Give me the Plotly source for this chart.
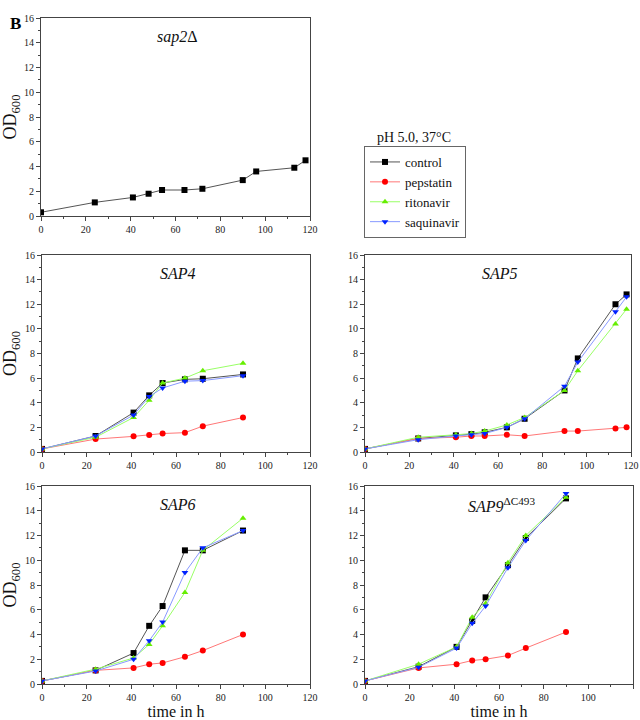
import plotly.graph_objects as go

# ---- data ----
t_sap2 = [0, 24, 41, 48, 54, 64, 72, 90, 96, 113, 118]
sap2_control = [0.3, 1.1, 1.5, 1.8, 2.1, 2.1, 2.2, 2.9, 3.6, 3.9, 4.5]

t_short = [0, 24, 41, 48, 54, 64, 72, 90]
t_long = [0, 24, 41, 48, 54, 64, 72, 90, 96, 113, 118]

sap4_control = [0.25, 1.3, 3.2, 4.6, 5.6, 5.9, 5.95, 6.3]
sap4_pepstatin = [0.25, 1.05, 1.27, 1.38, 1.5, 1.57, 2.1, 2.8]
sap4_ritonavir = [0.25, 1.2, 2.8, 4.2, 5.6, 6.0, 6.6, 7.2]
sap4_saquinavir = [0.25, 1.3, 3.0, 4.5, 5.2, 5.75, 5.8, 6.2]

sap5_control = [0.25, 1.1, 1.35, 1.45, 1.6, 2.0, 2.7, 5.0, 7.6, 12.0, 12.8]
sap5_pepstatin = [0.25, 1.1, 1.2, 1.3, 1.3, 1.4, 1.3, 1.7, 1.7, 1.9, 2.0]
sap5_ritonavir = [0.25, 1.2, 1.4, 1.5, 1.7, 2.2, 2.8, 5.0, 6.6, 10.4, 11.6]
sap5_saquinavir = [0.25, 1.0, 1.3, 1.4, 1.5, 2.0, 2.7, 5.35, 7.3, 11.4, 12.6]

sap6_control = [0.25, 1.1, 2.5, 4.7, 6.3, 10.8, 10.8, 12.4]
sap6_pepstatin = [0.25, 1.1, 1.3, 1.6, 1.7, 2.2, 2.7, 4.0]
sap6_ritonavir = [0.25, 1.2, 2.1, 3.2, 4.7, 7.4, 10.8, 13.4]
sap6_saquinavir = [0.25, 1.05, 2.0, 3.5, 5.0, 9.0, 11.0, 12.4]

sap9_control = [0.25, 1.4, 3.0, 5.1, 7.0, 9.6, 11.8, 15.0]
sap9_pepstatin = [0.25, 1.3, 1.6, 1.9, 2.0, 2.3, 2.9, 4.2]
sap9_ritonavir = [0.25, 1.6, 3.0, 5.4, 6.5, 9.8, 12.0, 15.1]
sap9_saquinavir = [0.25, 1.35, 2.9, 4.9, 6.3, 9.4, 11.6, 15.4]

series_names = ["control", "pepstatin", "ritonavir", "saquinavir"]
marker_colors = ["#000000", "#ff0000", "#66ee00", "#0022ff"]
line_colors = ["#555555", "#ff7777", "#99ff66", "#8899ff"]
symbols = ["square", "circle", "triangle-up", "triangle-down"]

FONT = "Liberation Serif, Times New Roman, serif"

fig = go.Figure()


def add_series(xa, ya, x, ys, showlegend):
    for i, y in enumerate(ys):
        fig.add_trace(go.Scatter(
            x=x, y=y, mode="lines+markers", name=series_names[i],
            xaxis=xa, yaxis=ya, legendgroup=series_names[i],
            showlegend=showlegend,
            line=dict(color=line_colors[i], width=1),
            marker=dict(color=marker_colors[i], symbol=symbols[i], size=6,
                        line=dict(width=0)),
        ))


# top panel: sap2 control only
fig.add_trace(go.Scatter(
    x=t_sap2, y=sap2_control, mode="lines+markers", name="control",
    xaxis="x", yaxis="y", showlegend=False, legendgroup="control",
    line=dict(color=line_colors[0], width=1),
    marker=dict(color=marker_colors[0], symbol="square", size=6),
))
add_series("x2", "y2", t_short,
           [sap4_control, sap4_pepstatin, sap4_ritonavir, sap4_saquinavir], True)
add_series("x3", "y3", t_long,
           [sap5_control, sap5_pepstatin, sap5_ritonavir, sap5_saquinavir], False)
add_series("x4", "y4", t_short,
           [sap6_control, sap6_pepstatin, sap6_ritonavir, sap6_saquinavir], False)
add_series("x5", "y5", t_short,
           [sap9_control, sap9_pepstatin, sap9_ritonavir, sap9_saquinavir], False)

W, H = 640, 720
L1, R1 = 41 / W, 310 / W
L2, R2 = 365 / W, 631 / W
rows = {
    "top": (1 - 216 / H, 1 - 18 / H),
    "mid": (1 - 452 / H, 1 - 255 / H),
    "bot": (1 - 684 / H, 1 - 486 / H),
}
panels = [
    ("", (L1, R1), rows["top"], True, False),
    ("2", (L1 + 1 / W, R1), rows["mid"], True, False),
    ("3", (L2, R2), rows["mid"], False, False),
    ("4", (L1 + 1 / W, R1), rows["bot"], True, True),
    ("5", (L2, R2 + 2 / W), rows["bot"], False, True),
]

axis_common = dict(
    showline=True, mirror=True, linecolor="#444444", linewidth=1,
    ticks="outside", ticklen=4, tickcolor="#444444", showgrid=False,
    zeroline=False, automargin=False,
    tickfont=dict(family=FONT, size=10, color="#222222"),
)

layout_axes = {}
for suf, xd, yd, ytitle, xtitle in panels:
    layout_axes["xaxis" + suf] = dict(
        axis_common, domain=list(xd), range=[0, 120], dtick=20,
        anchor="y" + suf,
        minor=dict(ticks="outside", ticklen=2, dtick=10, tickcolor="#444444"),
        title=dict(text="time in h" if xtitle else "",
                   font=dict(family=FONT, size=16, color="#111111"), standoff=4),
    )
    layout_axes["yaxis" + suf] = dict(
        axis_common, domain=list(yd), range=[0, 16], dtick=2,
        anchor="x" + suf,
        minor=dict(ticks="outside", ticklen=2, dtick=1, tickcolor="#444444"),
        title=dict(text="OD<sub>600</sub>" if ytitle else "",
                   font=dict(family=FONT, size=18, color="#111111"), standoff=4),
    )

annotations = []
labels = [("", "<i>sap2</i>Δ"), ("2", "<i>SAP4</i>"), ("3", "<i>SAP5</i>"),
          ("4", "<i>SAP6</i>"), ("5", "<i>SAP9</i><sup>ΔC493</sup>")]
for suf, txt in labels:
    annotations.append(dict(
        x=61, y=14.5, xref="x" + suf, yref="y" + suf, text=txt,
        showarrow=False, font=dict(family=FONT, size=16, color="#111111"),
    ))
annotations.append(dict(
    x=8 / W, y=1 - 12 / H, xref="paper", yref="paper", text="<b>B</b>",
    showarrow=False, font=dict(family=FONT, size=17, color="#000000"),
))
annotations.append(dict(
    x=414 / W, y=1 - 128 / H, xref="paper", yref="paper", text="pH 5.0, 37°C",
    showarrow=False, font=dict(family=FONT, size=14, color="#111111"),
))

fig.update_layout(
    width=W, height=H, margin=dict(l=0, r=0, t=0, b=0, pad=0, autoexpand=False),
    paper_bgcolor="white", plot_bgcolor="white",
    font=dict(family=FONT, color="#111111"),
    annotations=annotations,
    legend=dict(
        x=364 / W, y=1 - 146 / H, xanchor="left", yanchor="top",
        bordercolor="#666666", borderwidth=1, bgcolor="white",
        font=dict(family=FONT, size=13, color="#111111"),
        tracegroupgap=0, itemwidth=30,
    ),
    **layout_axes,
)

fig.write_html(
    "out.html",
    config={"displayModeBar": False},
    post_script="document.body.style.margin='0';document.body.style.padding='0';",
)
